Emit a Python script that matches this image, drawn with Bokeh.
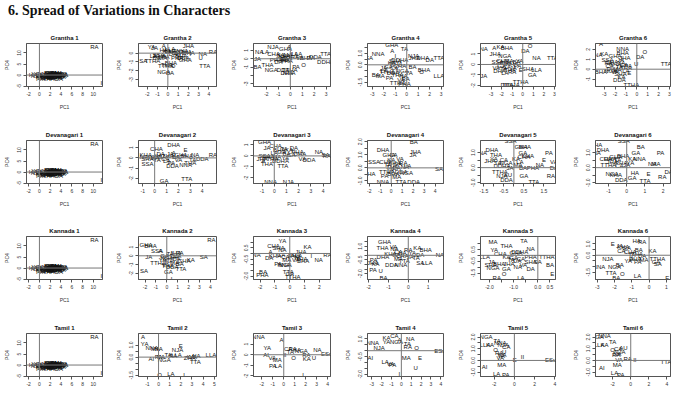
from bokeh.plotting import figure
from bokeh.models import Range1d, FixedTicker, Span, ColumnDataSource, Div
from bokeh.layouts import column, row
from bokeh.core.properties import value
from bokeh.embed import file_html
from bokeh.resources import INLINE

# ---------------- data ----------------
scripts = ["Grantha", "Devanagari", "Kannada", "Tamil"]

# column 1 panels (same picture for every script)
c1_lab = ["RA","I","KA","KHA","GA","GHA","NGA","CA","CHA","JA","JHA","NYA","TTA","TTHA","DDA","DDHA","NNA","TA","THA","DA","DHA","NA","PA","PHA","BA","BHA","MA","YA","LA","VA","SHA","SSA","SA","HA","LLA","A","E","O","U","AI","AU",
          "KA","GA","NA","MA","TA","DA","PA","BA","YA","VA","SA","LA","HA","CA","JA","NNA","TTA","DDA","THA","DHA"]
c1_x = [10.2,11.5,2.5,3.0,1.8,2.2,0.5,3.5,2.8,1.2,4.0,-0.5,0.2,1.5,2.6,3.3,0.8,2.0,3.8,3.6,2.9,1.0,2.3,4.2,1.6,3.2,2.7,-0.8,0.0,2.1,3.0,1.4,2.4,-1.2,0.6,1.9,3.4,2.6,0.4,1.3,3.9,
        2.8,3.4,2.1,3.7,1.7,2.9,3.2,2.4,3.9,1.9,4.5,2.6,3.1,2.0,3.5,1.1,2.3,4.1,1.7,3.0]
c1_y = [12.7,-3.5,0.3,-0.2,-0.5,0.8,-0.8,0.2,0.6,0.1,-0.3,-0.6,-1.6,-1.2,-1.0,-0.8,0.4,0.2,0.5,-1.8,-0.4,-0.3,-0.2,0.0,0.7,1.0,-0.6,0.3,0.2,-1.4,0.1,-0.7,0.5,-0.2,-1.3,-0.1,-0.3,0.9,0.0,0.3,-1.1,
        -0.2,0.4,-0.7,-0.5,0.1,0.3,-0.6,-0.9,0.3,0.5,-0.2,0.1,0.7,-0.1,-0.9,-0.9,0.9,0.6,-1.7,-1.4]
c1_xr = [-2.4, 11.7]; c1_yr = [-5.2, 14.3]
c1_xt = [-2,0,2,4,6,8,10]; c1_xtl = ["-2","0","2","4","6","8","10"]
c1_yt = [-5,0,5,10]; c1_ytl = ["-5","0","5","10"]

g2_lab = ["YA","JA","A","JHA","RA","NA","U","TTA","SA","TTHA","KA","KHA","GA","CA","CHA","DA","DHA","NNA","BA","BHA","MA","PA","PHA","LA","VA","SHA","SSA","DDA","GHA","NGA","BA","O","TTHA","THA","E","AI","HA","LLA","NYA","I"]
g2_x = [-1.6,-1.3,-0.4,2.0,4.4,3.4,3.2,3.6,-2.4,-1.5,-0.1,0.3,0.8,1.2,1.7,0.5,2.0,-0.8,-1.1,0.3,-0.5,-0.2,0.9,-1.4,0.0,1.3,-0.9,1.5,1.7,-0.4,0.2,0.5,-0.2,-0.1,0.6,1.0,-0.4,0.2,1.4,2.2]
g2_y = [0.68,0.6,0.76,0.76,0.16,-0.11,-0.5,-1.5,-0.94,-0.9,0.3,0.2,0.05,0.15,0.1,-0.1,0.05,-0.3,-0.5,-1.1,-0.6,-0.4,-0.5,-0.3,0.1,-0.3,-0.2,-0.57,-0.8,-2.1,-2.3,-1.5,-1.5,-1.3,0.25,-0.2,0.35,0.45,0.3,-0.1]
g2_xr = [-2.86, 4.74]; g2_yr = [-3.8, 1.1]
g2_xt = [-2,-1,0,1,2,3,4]; g2_xtl = ["-2","-1","0","1","2","3","4"]
g2_yt = [-3,-2,-1,0]; g2_ytl = ["-3","-2","-1","0"]

g3_lab = ["NJA","A","GHA","NA","LA","JA","CHA","KA","KHA","GA","CA","TA","THA","DA","BA","MA","YA","LLA","LA","BHA","DDA","TTA","DDHA","BA","THA","NGA","PA","O","DDA","DHA","NNA","TTHA","VA","SHA","RA","PHA","NA"]
g3_x = [-1.45,-0.1,-0.4,-2.6,-2.1,-2.75,-1.4,-0.8,-0.5,-0.2,-0.9,-0.6,-0.3,-1.0,-0.5,-0.2,-0.7,0.55,0.35,1.3,2.1,2.95,2.95,-2.75,-1.9,-1.6,0.47,1.1,-0.6,-0.3,-0.1,-0.05,0.8,0.2,1.7,-1.2,-0.4]
g3_y = [1.4,1.4,1.15,0.8,0.8,0.0,0.6,0.5,0.3,0.1,0.0,-0.2,-0.3,-0.4,0.0,0.5,0.2,0.6,0.55,0.07,0.2,0.6,-0.33,-1.0,-0.8,-1.4,-1.0,-0.8,-1.3,-1.7,-1.75,-1.4,0.1,0.2,0.15,-0.2,-0.1]
g3_xr = [-3.08, 3.36]; g3_yr = [-3.34, 1.84]
g3_xt = [-2,-1,0,1,2,3]; g3_xtl = ["-2","-1","0","1","2","3"]
g3_yt = [-3,-2,-1,0,1]; g3_ytl = ["-3","","-1","0","1"]

g4_lab = ["GHA","A","TA","NNA","SA","I","JHA","DHA","DA","TTA","NJA","KA","KHA","GA","CA","CHA","JA","NGA","TTHA","DDA","THA","NA","PA","BA","BHA","O","LLA","BA","MA","YA","RA","LA","VA","TTHA","PHA","SHA","DDHA"]
g4_x = [-1.3,-1.27,-0.2,-2.5,-3.3,-1.0,0.65,1.4,2.0,2.8,0.6,-1.3,-0.9,-1.6,-1.1,-0.6,-2.0,-0.4,-1.7,-1.2,-0.8,-0.3,-1.5,0.5,1.5,1.3,2.8,-2.7,-2.3,0.2,-0.1,-2.0,-0.5,-0.8,-0.2,-1.0,-0.6]
g4_y = [1.7,1.24,1.4,0.9,0.55,0.8,0.55,0.55,0.45,0.6,0.75,0.2,0.1,-0.2,-0.3,-0.1,-0.3,-0.5,-0.6,-0.7,-0.9,-1.0,-1.1,-0.2,-0.45,-0.6,-0.97,-0.9,-0.95,-0.7,-1.2,-0.5,-1.3,-1.6,-1.7,0.3,0.4]
g4_xr = [-3.42, 3.2]; g4_yr = [-1.88, 1.85]
g4_xt = [-3,-2,-1,0,1,2,3]; g4_xtl = ["-3","-2","-1","0","1","2","3"]
g4_yt = [-1.5,-1.0,-0.5,0.0,0.5,1.0,1.5]; g4_ytl = ["-1.5","","","0.0","","1.0",""]

g5_lab = ["NA","A","KA","BHA","O","DA","JHA","NGA","NA","TTA","SSA","CHA","MA","BA","KHA","GA","CA","JA","TA","THA","DHA","PA","PHA","YA","VA","E","SHA","LLA","GA","JA","TTHA","DDHA","DDA","RA","LA"]
g5_x = [-3.7,-2.7,-2.1,-1.5,0.7,0.25,-2.6,-1.7,1.3,2.8,-2.4,-1.9,-1.3,-0.6,-1.0,-2.0,-1.5,-0.9,-1.8,-1.2,-2.2,-0.5,-1.6,-0.3,-2.5,-0.2,0.5,1.3,0.9,-3.7,-0.2,-1.1,-1.5,-1.0,-1.7]
g5_y = [1.5,1.6,1.7,1.6,1.73,1.24,1.0,0.8,0.65,0.65,0.2,0.3,0.3,0.2,0.0,-0.1,-0.2,-0.3,-0.4,-0.5,-0.6,-0.1,0.1,0.3,-0.3,-0.5,-0.4,-0.5,-1.05,-1.1,-1.7,-2.0,-1.95,-0.7,-0.8]
g5_xr = [-4.0, 3.1]; g5_yr = [-2.1, 2.0]
g5_xt = [-3,-2,-1,0,1,2,3]; g5_xtl = ["-3","-2","-1","0","1","2","3"]
g5_yt = [-2,-1,0,1]; g5_ytl = ["-2","-1","0","1"]

g6_lab = ["A","NA","KA","NNA","BHA","GHA","O","DA","U","TTA","SSA","CHA","JA","KHA","GA","CA","TA","THA","DHA","PA","MA","YA","RA","LA","BHA","VA","SHA","NGA","DDA","TTHA","KA","E","JHA"]
g6_x = [-3.3,-3.55,-3.0,-1.3,-1.3,-2.0,0.75,0.3,-0.06,2.7,-2.7,-2.3,-1.5,-2.0,-1.2,-2.5,-1.6,-1.0,-2.2,-0.8,-1.8,-1.4,-2.6,-1.0,-3.3,-2.0,-1.5,-2.4,-1.6,-0.5,-1.4,-0.7,-1.1]
g6_y = [2.5,1.4,1.5,2.0,1.6,1.3,1.75,1.2,0.5,0.5,0.9,0.7,0.9,0.5,0.4,0.3,0.2,0.1,0.0,0.3,-0.1,0.6,0.6,-0.2,-0.3,-0.3,-0.5,-0.2,-1.1,-1.6,-0.8,-0.4,1.1]
g6_xr = [-3.8, 3.1]; g6_yr = [-1.75, 2.6]
g6_xt = [-3,-2,-1,0,1,2,3]; g6_xtl = ["-3","-2","-1","0","1","2","3"]
g6_yt = [-1,0,1,2]; g6_ytl = ["-1","0","1","2"]

d2_lab = ["DHA","CHA","E","KHA","NA","SHA","SSA","A","JA","KA","GA","CA","TA","THA","DA","BA","BHA","NA","RA","DDA","NNA","TA","THA","PA","DDA","GHA","MA","YA","GA","TTA","LA","VA"]
d2_x = [1.6,0.15,2.6,-0.75,-0.9,-0.6,-0.6,1.6,1.3,0.3,0.6,0.9,0.2,1.1,0.5,1.8,2.7,3.4,4.9,4.0,2.6,3.2,3.0,1.4,1.5,2.2,0.0,-0.3,0.8,2.7,1.0,2.0]
d2_y = [1.3,0.9,0.8,0.3,0.1,-0.15,-0.6,0.5,0.35,0.2,0.05,-0.1,-0.2,0.2,0.35,0.1,0.2,0.3,0.3,-0.1,-0.65,-0.2,-0.45,-0.5,-0.75,0.25,0.0,0.1,-2.3,-2.1,-0.3,-0.2]
d2_xr = [-1.36, 5.2]; d2_yr = [-2.5, 1.7]
d2_xt = [-1,0,1,2,3,4]; d2_xtl = ["-1","0","1","2","3","4"]
d2_yt = [-2,-1,0,1]; d2_ytl = ["-2","-1","0","1"]

d3_lab = ["GHA","CHA","JA","BHA","TA","KA","GA","DA","DHA","PHA","NA","SA","RA","DDA","VA","SSA","KHA","A","TTHA","THA","MA","YA","DDHA","TTA","NNA","NJA","CA","LA","BA","JHA"]
d3_x = [-0.8,0.1,-0.6,0.4,0.8,1.2,0.6,1.6,2.1,1.9,3.65,4.2,4.3,2.85,2.3,-0.8,-0.5,-0.9,-0.3,-0.6,0.2,0.9,0.5,0.7,-0.3,1.15,1.4,0.0,1.0,-1.0]
d3_y = [1.3,0.9,0.7,0.5,0.6,0.55,0.4,0.7,0.2,0.35,0.4,0.1,0.0,-0.35,-0.3,0.0,-0.1,-0.5,-0.3,-0.7,-0.1,-0.2,-0.5,-0.9,-2.4,-2.4,0.1,0.3,0.2,-0.3]
d3_xr = [-1.7, 4.6]; d3_yr = [-2.5, 1.4]
d3_xt = [-1,0,1,2,3,4]; d3_xtl = ["-1","0","1","2","3","4"]
d3_yt = [-2,-1,0,1]; d3_ytl = ["-2","-1","0","1"]

d4_lab = ["BA","DHA","GHA","CA","JHA","JA","SSA","KA","KHA","GA","TA","THA","DA","NA","LA","SA","HA","DDA","TTHA","BHA","PA","MA","NGA","NNA","TTA","DDA","YA","VA","RA","CHA"]
d4_x = [2.05,-0.75,-0.2,0.2,2.2,2.0,-1.56,0.0,0.3,0.6,-0.3,0.1,0.5,1.25,1.5,4.35,-1.8,0.9,-0.4,0.2,-0.6,0.5,1.4,-0.75,0.9,2.05,-0.1,0.8,1.1,-0.5]
d4_y = [2.0,1.36,1.0,0.95,1.2,0.95,0.48,0.6,0.4,0.3,0.2,0.1,0.0,0.1,0.15,-0.1,-0.45,-0.3,-0.3,-0.5,-0.6,-0.7,-0.4,-1.05,-1.1,-1.05,-0.2,0.7,0.35,0.45]
d4_xr = [-2.16, 4.77]; d4_yr = [-1.2, 2.1]
d4_xt = [-2,-1,0,1,2,3,4]; d4_xtl = ["-2","-1","0","1","2","3","4"]
d4_yt = [-1.0,-0.5,0.0,0.5,1.0,1.5,2.0]; d4_ytl = ["-1.0","","0.0","","1.0","","2.0"]

d5_lab = ["SSA","NA","DHA","JHA","THA","GHA","BHA","GA","KHA","CHA","PA","E","NA","VA","DA","RA","BA","PHA","GA","TTA","DDHA","NGA","TTHA","AU","CA","JA","NJA","DDA","KA","TA","MA","LA","YA"]
d5_x = [-0.17,-1.55,-1.1,-1.2,-0.9,0.35,0.55,0.45,0.7,0.5,1.75,1.5,1.3,2.0,2.0,1.85,0.45,0.95,0.5,1.0,-0.6,-0.4,-0.7,-0.3,-0.5,-0.2,-0.6,-0.37,0.1,-0.8,0.2,0.3,-1.0]
d5_y = [1.75,1.0,1.2,0.47,0.85,1.36,1.36,1.0,0.8,0.7,1.0,0.5,0.2,0.35,-0.05,-0.55,-0.05,-0.05,-0.55,-0.95,0.1,0.3,-0.3,-0.5,0.5,0.0,-0.55,-0.82,0.6,0.3,0.2,0.4,0.6]
d5_xr = [-1.67, 2.08]; d5_yr = [-1.05, 1.8]
d5_xt = [-1.5,-1.0,-0.5,0.0,0.5,1.0,1.5]; d5_xtl = ["-1.5","","-0.5","","0.5","","1.5"]
d5_yt = [-1.0,-0.5,0.0,0.5,1.0]; d5_ytl = ["-1.0","","0.0","","1.0"]

d6_lab = ["SSA","HA","NA","DHA","CHA","DHA","JHA","TA","PHA","GHA","BHA","BA","GA","NNA","KA","PA","NA","MA","DA","RA","E","HA","GA","TTA","NGA","DDA","KHA","TTHA","CA","JA","YA"]
d6_x = [-0.16,-1.57,-1.65,-1.3,-1.15,-0.9,-0.8,-0.5,-0.3,-0.6,-0.2,0.77,0.5,0.7,0.3,1.85,1.4,1.6,2.3,1.95,1.2,0.45,0.3,1.0,-0.8,-0.3,-0.6,-1.0,-0.4,0.0,0.2]
d6_y = [1.75,1.47,1.0,1.2,0.6,0.55,0.4,0.5,0.3,0.7,0.8,1.36,1.0,0.6,0.6,1.0,0.25,0.25,-0.3,-0.6,-0.4,-0.35,-0.7,-0.9,-0.4,-0.82,-0.5,0.2,0.1,0.2,0.3]
d6_xr = [-1.71, 2.4]; d6_yr = [-1.05, 1.8]
d6_xt = [-1,0,1,2]; d6_xtl = ["-1","0","1","2"]
d6_yt = [-1.0,-0.5,0.0,0.5,1.0]; d6_ytl = ["-1.0","","0.0","","1.0"]

k2_lab = ["RA","GHA","BHA","SSA","A","JA","SA","TA","JHA","PA","KA","GHA","CHA","GA","DA","NA","MA","BA","VA","TTHA","THA","DDA","SA","TTA","GA","I","NGA","LA","YA"]
k2_x = [4.1,-1.9,-1.5,-0.9,-0.6,-1.65,3.4,0.3,0.8,1.2,2.2,1.6,0.5,-0.2,0.9,0.2,0.7,1.2,-0.1,-0.8,0.1,0.5,-2.1,1.3,0.15,0.45,0.0,1.0,-0.4]
k2_y = [1.75,1.2,1.15,0.5,0.6,-0.1,-0.1,0.2,0.3,0.3,-0.5,-0.55,-0.1,0.0,-0.4,-0.6,-0.8,-0.9,-1.0,-0.8,-1.2,-1.3,-1.7,-1.5,-1.9,-2.6,-0.3,0.0,-0.5]
k2_xr = [-2.6, 4.57]; k2_yr = [-2.7, 2.2]
k2_xt = [-2,-1,0,1,2,3,4]; k2_xtl = ["-2","-1","0","1","2","3","4"]
k2_yt = [-2,-1,0,1]; k2_ytl = ["-2","-1","0","1"]

k3_lab = ["YA","CHA","SHA","NA","KA","JHA","A","NA","RA","I","NA","KHA","GA","CA","JA","TA","THA","DA","DHA","BHA","MA","LA","PA","NGA","BA","PHA","TTA","GA","TTHA","NNA","VA"]
k3_x = [-0.5,-1.1,-0.75,-0.5,1.2,0.75,-1.3,-2.25,2.55,1.45,1.95,-1.0,-0.6,-0.3,0.1,0.5,0.8,-1.4,0.3,0.9,-0.2,0.6,-0.8,-0.3,-1.8,-1.85,-0.1,0.0,0.2,-0.4,0.4]
k3_y = [1.1,0.7,0.45,0.35,0.6,0.15,0.1,-0.15,-0.1,-0.2,-0.6,-0.2,-0.1,-0.3,-0.2,-0.4,-0.5,-0.4,-0.1,-0.7,-0.6,-0.2,-0.95,-1.0,-1.6,-1.9,-1.6,-1.8,-2.1,-1.05,-0.6]
k3_xr = [-2.45, 2.75]; k3_yr = [-2.3, 1.5]
k3_xt = [-2,-1,0,1,2]; k3_xtl = ["-2","-1","0","1","2"]
k3_yt = [-2.0,-1.5,-1.0,-0.5,0.0,0.5,1.0]; k3_ytl = ["-2.0","","","-0.5","","0.5",""]

k4_lab = ["GHA","THA","VA","NA","CA","NA","RA","KA","BHA","NA","DHA","KHA","GA","CHA","JA","TA","DA","MA","PA","KA","JHA","LLA","SA","NNA","DDA","PA","U","BA","TTA","YA"]
k4_x = [-1.2,-1.3,-0.75,-0.7,-0.5,-0.3,0.0,0.46,0.88,1.6,-1.28,-0.9,-0.6,-0.3,0.1,0.4,0.6,-0.5,-1.75,-1.65,-1.8,0.95,0.6,-0.37,-0.85,-1.78,-1.4,-1.25,-0.2,0.2]
k4_y = [1.5,0.8,0.9,0.65,0.4,0.3,0.57,0.75,0.57,0.05,-0.17,0.1,0.0,-0.1,-0.2,-0.3,0.0,-0.4,-0.5,-0.9,-0.8,-0.8,-0.8,-1.05,-1.1,-1.66,-1.75,-2.5,-0.6,0.2]
k4_xr = [-2.06, 1.78]; k4_yr = [-2.65, 2.06]
k4_xt = [-2,-1,0,1]; k4_xtl = ["-2","-1","0","1"]
k4_yt = [-2.0,-1.5,-1.0,-0.5,0.0,0.5,1.0,1.5]; k4_ytl = ["-2.0","","","-0.5","","","1.0",""]

k5_lab = ["MA","TA","THA","YA","CHA","NA","DDHA","GHA","LLA","KA","GA","CA","TA","DA","PHA","TTHA","SHA","SA","BA","JA","BHA","SHA","NGA","NA","DA","GA","O","E","LA","RA","JHA","VA"]
k5_x = [-1.85,-0.58,-1.3,-1.8,-1.55,-0.3,-0.75,-0.9,-2.2,-1.3,-1.0,-0.7,-1.1,-0.85,-0.3,0.37,-0.3,0.0,0.5,-1.9,-1.6,-1.95,-1.85,-0.83,-0.3,-1.3,-1.4,0.6,-0.7,-1.7,-1.2,-0.6]
k5_y = [1.12,1.26,0.77,0.44,0.15,0.58,0.3,0.2,-0.1,-0.1,-0.2,-0.3,-0.4,-0.5,-0.1,-0.13,-0.6,-0.55,-0.8,-0.6,-0.7,-0.85,-1.1,-0.95,-1.2,-1.2,-1.55,-1.55,-1.9,-1.95,-0.75,-0.8]
k5_xr = [-2.37, 0.73]; k5_yr = [-2.05, 1.6]
k5_xt = [-2.0,-1.5,-1.0,-0.5,0.0,0.5]; k5_xtl = ["-2.0","","-1.0","","0.0","0.5"]
k5_yt = [-1.5,-1.0,-0.5,0.0,0.5,1.0]; k5_ytl = ["-1.5","","-0.5","","0.5",""]

k6_lab = ["HA","RA","E","JA","KHA","GA","CA","CHA","BA","KA","TA","THA","DA","DHA","TTHA","GA","SA","NJA","A","PA","NNA","NGA","BA","TTA","O","LA","BA","E","MA","YA"]
k6_x = [-0.72,-0.4,-2.1,-1.7,-1.5,-1.3,-1.6,-1.1,-0.6,0.2,-1.0,-0.7,-0.4,-0.8,0.48,0.4,0.5,-2.38,-1.0,-0.65,-2.9,-2.0,-1.7,-2.2,-1.55,-0.67,-1.9,1.05,-0.3,-1.2]
k6_y = [1.3,1.2,1.0,0.8,0.7,0.6,0.4,0.3,0.5,0.37,0.0,0.1,-0.1,-0.3,-0.35,-0.6,-0.8,-0.35,-0.35,-0.6,-1.0,-1.0,-0.9,-1.55,-1.7,-1.87,-2.0,-2.05,-0.4,-0.5]
k6_xr = [-3.1, 1.24]; k6_yr = [-2.15, 1.66]
k6_xt = [-3,-2,-1,0,1]; k6_xtl = ["-3","-2","-1","0","1"]
k6_yt = [-1.5,-1.0,-0.5,0.0,0.5,1.0]; k6_ytl = ["-1.5","","","0.0","","1.0"]

t2_lab = ["A","YA","NNA","MA","NA","E","NJA","TA","RA","LLA","PA","NGA","AI","KA","VA","NA","LLA","TTA","ZHA","O","LA","I","CA"]
t2_x = [-1.4,-1.25,-0.6,-0.3,0.0,2.0,1.7,0.85,1.3,1.6,0.0,0.5,-0.65,2.9,3.1,3.4,4.7,3.3,2.8,0.1,1.1,2.3,0.2]
t2_y = [1.65,1.1,0.75,0.7,0.65,0.88,0.55,0.15,0.1,0.2,0.0,-0.2,-0.15,0.0,0.05,0.1,0.15,-0.4,-0.1,-1.5,-1.4,-1.5,0.05]
t2_xr = [-1.8, 5.2]; t2_yr = [-1.6, 1.95]
t2_xt = [-1,0,1,2,3,4,5]; t2_xtl = ["-1","0","1","2","3","4","5"]
t2_yt = [-1.5,-1.0,-0.5,0.0,0.5,1.0]; t2_ytl = ["-1.5","","","0.0","","1.0"]

t3_lab = ["NNA","A","YA","CA","RA","KA","NGA","NA","ESu","AI","VA","MA","II","O","RA","KA","U","PA","LA","I","TA"]
t3_x = [-2.3,-0.2,-1.5,0.4,0.8,1.2,1.6,3.05,3.9,-1.6,-1.05,-0.6,0.1,0.9,2.05,2.1,2.75,-1.0,-0.5,1.75,0.6]
t3_y = [1.7,1.35,0.65,0.5,0.55,0.45,0.35,0.4,0.07,-0.03,-0.3,-0.5,0.0,-0.3,-0.05,-0.4,-0.3,-1.1,-1.1,-1.9,0.3]
t3_xr = [-2.75, 4.25]; t3_yr = [-2.05, 2.0]
t3_xt = [-2,-1,0,1,2,3,4]; t3_xtl = ["-2","-1","0","1","2","3","4"]
t3_yt = [-2,-1,0,1]; t3_ytl = ["-2","-1","0","1"]

t4_lab = ["KA","CA","NA","NNA","YA","NGA","A","TA","RA","O","NJA","ESu","AI","MA","E","LA","VA","PA","U","I"]
t4_x = [-1.5,-0.7,0.9,-2.9,-1.5,-0.5,-0.2,0.6,0.65,1.55,-2.25,3.9,-3.15,0.5,1.9,-1.65,-1.1,-0.9,1.45,-0.2]
t4_y = [1.1,1.25,1.0,0.65,0.7,0.75,0.95,0.55,0.35,0.27,0.2,0.0,-0.6,-0.65,-0.6,-1.0,-1.1,-1.2,-1.5,-2.0]
t4_xr = [-3.43, 4.27]; t4_yr = [-2.19, 1.46]
t4_xt = [-3,-2,-1,0,1,2,3,4]; t4_xtl = ["-3","-2","-1","0","1","2","3","4"]
t4_yt = [-2.0,-1.5,-1.0,-0.5,0.0,0.5,1.0]; t4_ytl = ["-2.0","","","-0.5","","","1.0"]

t5_lab = ["NGA","LLA","KA","TA","NNA","CA","NJA","O","RA","NA","YA","VA","E","II","ESu","AI","MA","LA","PA","U"]
t5_x = [-2.8,-2.9,-2.4,-1.7,-1.4,-0.8,-1.1,-1.85,-1.5,-1.2,-1.3,-1.4,0.05,0.8,3.6,-2.95,-1.25,-1.75,-0.85,-1.0]
t5_y = [2.0,1.35,1.35,1.7,1.45,1.15,1.3,0.9,0.65,0.5,0.35,0.2,0.05,0.3,0.0,-0.6,-0.4,-1.15,-1.25,0.75]
t5_xr = [-3.35, 4.07]; t5_yr = [-1.37, 2.3]
t5_xt = [-2,0,2,4]; t5_xtl = ["-2","0","2","4"]
t5_yt = [-1.0,-0.5,0.0,0.5,1.0,1.5,2.0]; t5_ytl = ["-1.0","","0.0","","1.0","","2.0"]

t6_lab = ["NGA","NNA","TA","LLA","KA","O","CA","AU","NA","RA","VA","RA","II","TTA","AI","MA","LA","PA","NJA"]
t6_x = [-3.7,-2.9,-2.0,-3.5,-2.9,-2.0,-1.4,-0.8,-1.5,-1.6,-1.3,-0.35,0.45,3.9,-3.2,-1.5,-1.8,-1.1,-1.2]
t6_y = [2.0,2.05,1.6,1.3,1.3,0.85,1.0,1.05,0.55,0.45,0.05,0.15,0.05,-0.15,-0.65,-0.4,-1.1,-1.25,0.75]
t6_xr = [-3.9, 4.4]; t6_yr = [-1.37, 2.3]
t6_xt = [-2,0,2,4]; t6_xtl = ["-2","0","2","4"]
t6_yt = [-1.0,-0.5,0.0,0.5,1.0,1.5,2.0]; t6_ytl = ["-1.0","","0.0","","1.0","","2.0"]

# ---------------- layout ----------------
COL_W = [112, 115, 114, 113, 115, 104]
COL_RB = [10, 11, 11, 11, 14, 3]
ROW_H = [97, 96, 97, 92]
ROW_BB = [33, 32, 33, 28]
LB = 25
TB = 21
FONT = "Liberation Sans"

c1 = (c1_lab, c1_x, c1_y, c1_xr, c1_yr, c1_xt, c1_xtl, c1_yt, c1_ytl)
grid = [
    [c1, (g2_lab, g2_x, g2_y, g2_xr, g2_yr, g2_xt, g2_xtl, g2_yt, g2_ytl),
     (g3_lab, g3_x, g3_y, g3_xr, g3_yr, g3_xt, g3_xtl, g3_yt, g3_ytl),
     (g4_lab, g4_x, g4_y, g4_xr, g4_yr, g4_xt, g4_xtl, g4_yt, g4_ytl),
     (g5_lab, g5_x, g5_y, g5_xr, g5_yr, g5_xt, g5_xtl, g5_yt, g5_ytl),
     (g6_lab, g6_x, g6_y, g6_xr, g6_yr, g6_xt, g6_xtl, g6_yt, g6_ytl)],
    [c1, (d2_lab, d2_x, d2_y, d2_xr, d2_yr, d2_xt, d2_xtl, d2_yt, d2_ytl),
     (d3_lab, d3_x, d3_y, d3_xr, d3_yr, d3_xt, d3_xtl, d3_yt, d3_ytl),
     (d4_lab, d4_x, d4_y, d4_xr, d4_yr, d4_xt, d4_xtl, d4_yt, d4_ytl),
     (d5_lab, d5_x, d5_y, d5_xr, d5_yr, d5_xt, d5_xtl, d5_yt, d5_ytl),
     (d6_lab, d6_x, d6_y, d6_xr, d6_yr, d6_xt, d6_xtl, d6_yt, d6_ytl)],
    [c1, (k2_lab, k2_x, k2_y, k2_xr, k2_yr, k2_xt, k2_xtl, k2_yt, k2_ytl),
     (k3_lab, k3_x, k3_y, k3_xr, k3_yr, k3_xt, k3_xtl, k3_yt, k3_ytl),
     (k4_lab, k4_x, k4_y, k4_xr, k4_yr, k4_xt, k4_xtl, k4_yt, k4_ytl),
     (k5_lab, k5_x, k5_y, k5_xr, k5_yr, k5_xt, k5_xtl, k5_yt, k5_ytl),
     (k6_lab, k6_x, k6_y, k6_xr, k6_yr, k6_xt, k6_xtl, k6_yt, k6_ytl)],
    [c1, (t2_lab, t2_x, t2_y, t2_xr, t2_yr, t2_xt, t2_xtl, t2_yt, t2_ytl),
     (t3_lab, t3_x, t3_y, t3_xr, t3_yr, t3_xt, t3_xtl, t3_yt, t3_ytl),
     (t4_lab, t4_x, t4_y, t4_xr, t4_yr, t4_xt, t4_xtl, t4_yt, t4_ytl),
     (t5_lab, t5_x, t5_y, t5_xr, t5_yr, t5_xt, t5_xtl, t5_yt, t5_ytl),
     (t6_lab, t6_x, t6_y, t6_xr, t6_yr, t6_xt, t6_xtl, t6_yt, t6_ytl)],
]


def make_panel(title, spec, w, h, rb, bb):
    lab, xs, ys, xr, yr, xt, xtl, yt, ytl = spec
    p = figure(width=w, height=h, x_range=Range1d(*xr), y_range=Range1d(*yr),
               output_backend="svg", toolbar_location=None, title=title,
               min_border_left=LB, min_border_right=rb, min_border_top=TB,
               min_border_bottom=bb)
    p.title.align = "center"
    p.title.text_font = FONT
    p.title.text_font_size = "6px"
    p.title.text_font_style = "bold"
    p.title.text_color = "#111111"
    p.title.standoff = 5
    p.grid.visible = False
    p.outline_line_color = "#555555"
    p.outline_line_width = 1
    p.background_fill_color = "white"
    p.border_fill_color = "white"
    for ax, ticks, labels, name in ((p.xaxis[0], xt, xtl, "PC1"), (p.yaxis[0], yt, ytl, "PC4")):
        ax.ticker = FixedTicker(ticks=ticks)
        ax.major_label_overrides = {float(t): s for t, s in zip(ticks, labels)}
        ax.axis_label = name
        ax.axis_label_text_font = FONT
        ax.axis_label_text_font_size = "5px"
        ax.axis_label_text_font_style = "normal"
        ax.axis_label_text_color = "#333333"
        ax.major_label_text_font = FONT
        ax.major_label_text_font_size = "5px"
        ax.major_label_text_color = "#333333"
        ax.major_label_standoff = 2
        ax.axis_label_standoff = 5
        ax.major_tick_out = 3
        ax.major_tick_in = 0
        ax.minor_tick_line_color = None
        ax.axis_line_color = "#555555"
        ax.major_tick_line_color = "#555555"
    p.yaxis[0].major_label_orientation = "vertical"
    p.add_layout(Span(location=0, dimension="width", line_color="#777777", line_width=1))
    p.add_layout(Span(location=0, dimension="height", line_color="#777777", line_width=1))
    src = ColumnDataSource(dict(x=xs, y=ys, t=lab))
    p.text(x="x", y="y", text="t", source=src, text_font=value(FONT),
           text_font_size="6px", text_align="center", text_baseline="middle",
           text_color="#111111")
    return p


rows = []
for r, name in enumerate(scripts):
    figs = []
    for c in range(6):
        figs.append(make_panel(f"{name} {c + 1}", grid[r][c], COL_W[c], ROW_H[r], COL_RB[c], ROW_BB[r]))
    rows.append(row(*figs, spacing=0))

head = Div(text="6. Spread of Variations in Characters", width=673, height=12,
           styles={"font-family": "Liberation Serif", "font-weight": "bold",
                   "font-size": "14px", "line-height": "12px", "white-space": "nowrap",
                   "padding-left": "3px", "color": "#111111"})

layout = column(head, *rows, spacing=0)

open("out.html", "w").write(file_html(layout, INLINE))
